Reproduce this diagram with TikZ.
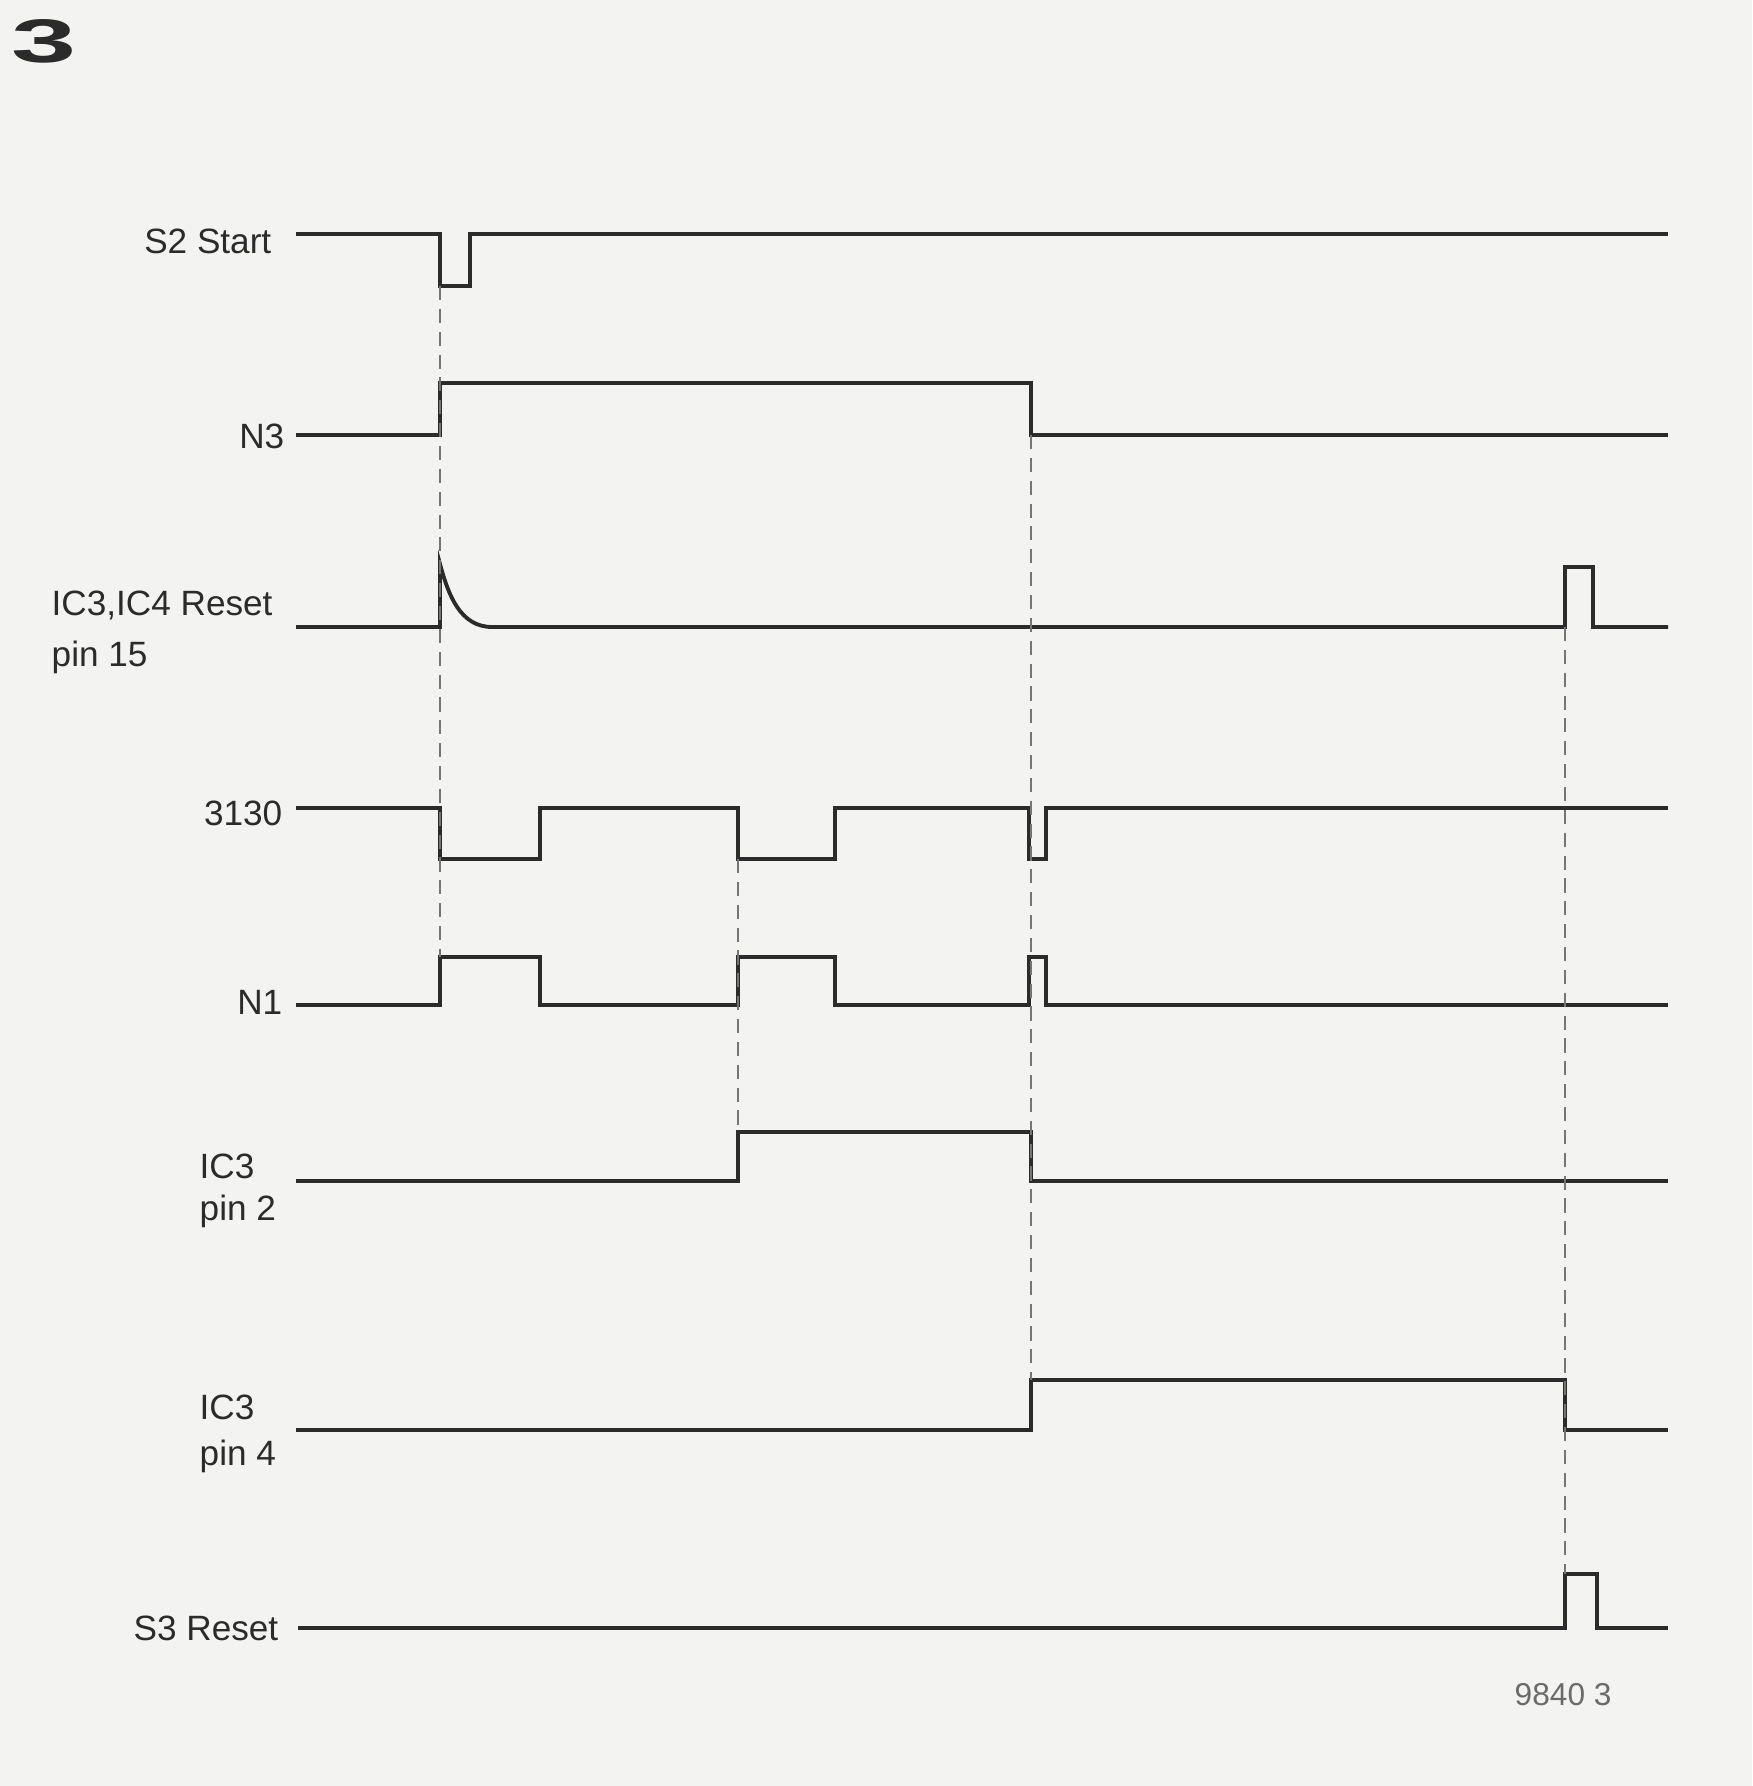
\documentclass[tikz,border=0pt]{standalone}
\usepackage{fontspec}
\setmainfont{Liberation Sans}
\usetikzlibrary{positioning}
\definecolor{Ink}{HTML}{2B2B2B}
\definecolor{Paper}{HTML}{F3F3F1}

\begin{document}
\begin{tikzpicture}[x=0.01cm,y=-0.01cm,
  every node/.style={inner sep=0pt, text=Ink, font=\fontsize{10}{12}\selectfont},
  wave/.style={draw=Ink, line width=1.1pt, line join=miter},
  guide/.style={draw=Ink!65, line width=0.45pt, dash pattern=on 4pt off 2.5pt}]
  \fill[Paper] (0,0) rectangle (1752,1786);
  \node[font=\fontsize{17.5}{18}\selectfont\bfseries, xscale=1.9] (fignum) at (44,41) {3};
  % signal names
  \foreach \nm/\x/\y/\txt in {s2/272/254/S2 Start, n3/285/449/N3, c3130/283/825/3130, n1/283/1014/N1, s3/279/1640/S3 Reset}{
    \node[anchor=base east] (lbl-\nm) at (\x,\y) {\txt};
  }
  \node[anchor=base west] (lbl-rst) at (51,616) {IC3,IC4 Reset};
  \node[anchor=base west] (lbl-rst2) at (51,667) {pin 15};
  \foreach \nm/\y in {p2/1178, p4/1419}{
    \node[anchor=base west] (lbl-\nm) at (199,\y) {IC3};
  }
  \node[anchor=base west] (lbl-p2b) at (199,1220) {pin 2};
  \node[anchor=base west] (lbl-p4b) at (199,1465) {pin 4};
  \node[anchor=base west, text=Ink!70, font=\fontsize{9}{10}\selectfont] (figref) at (1514,1705) {9840 3};
  % waveforms
  \draw[wave] (296,234) -- (440,234) -- (440,286) coordinate (s2-dip) -- (470,286) -- (470,234) -- (1668,234);
  \draw[wave] (296,435) -- (440,435) -- (440,383) -- (1031,383) -- (1031,435) coordinate (n3-fall) -- (1668,435);
  \draw[wave] (296,627) -- (440,627) -- (440,564) to[out=-75,in=180] (492,627) -- (1565,627) coordinate (rst-pulse)
    -- (1565,567) -- (1593,567) -- (1593,627) -- (1668,627);
  \draw[wave] (296,808) -- (440,808) -- (440,859) -- (540,859) -- (540,808) -- (738,808) -- (738,859) coordinate (c3130-low)
    -- (835,859) -- (835,808) -- (1029,808) -- (1029,859) -- (1046,859) -- (1046,808) -- (1668,808);
  \draw[wave] (296,1005) -- (440,1005) -- (440,957) coordinate (n1-high) -- (540,957) -- (540,1005) -- (738,1005) -- (738,957)
    -- (835,957) -- (835,1005) -- (1029,1005) -- (1029,957) -- (1046,957) -- (1046,1005) -- (1668,1005);
  \draw[wave] (296,1181) -- (738,1181) -- (738,1132) coordinate (p2-high) -- (1031,1132) -- (1031,1181) -- (1668,1181);
  \draw[wave] (296,1430) -- (1031,1430) -- (1031,1380) coordinate (p4-high) -- (1565,1380) -- (1565,1430) -- (1668,1430);
  \draw[wave] (298,1628) -- (1565,1628) -- (1565,1574) coordinate (s3-high) -- (1597,1574) -- (1597,1628) -- (1668,1628);
  % timing guides
  \draw[guide] (s2-dip) -- (n1-high);
  \draw[guide] (c3130-low) -- (p2-high);
  \draw[guide] (n3-fall) -- (p4-high);
  \draw[guide] (rst-pulse) -- (s3-high);
\end{tikzpicture}
\end{document}
